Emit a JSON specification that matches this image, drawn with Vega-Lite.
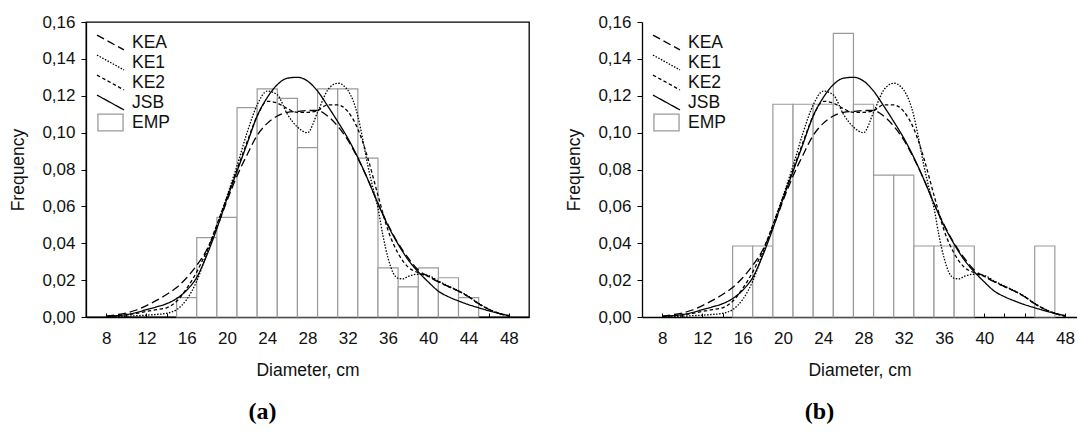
{
  "$schema": "https://vega.github.io/schema/vega-lite/v6.json",
  "padding": {"left": 9, "top": 12, "right": 0, "bottom": 0},
  "background": "white",
  "bounds": "flush",
  "spacing": 113,
  "config": {
    "font": "Liberation Sans",
    "view": {"stroke": "black", "strokeWidth": 1.3},
    "axis": {
      "labelFont": "Liberation Sans", "labelFontSize": 17, "labelColor": "#111",
      "titleFont": "Liberation Sans", "titleFontSize": 17.5, "titleFontWeight": "normal", "titleColor": "#111",
      "domainColor": "black", "domainWidth": 1.3, "tickColor": "black", "tickWidth": 1, "grid": false
    },
    "legend": {
      "orient": "none", "legendX": 10, "legendY": 10.5, "title": null, "padding": 0,
      "rowPadding": 0, "clipHeight": 20, "symbolSize": 729, "labelOffset": 7,
      "labelFont": "Liberation Sans", "labelFontSize": 17.5, "labelColor": "#111",
      "symbolStrokeWidth": 1.3, "symbolStrokeColor": "black", "symbolFillColor": "transparent",
      "symbolType": "M-1,-0.55L1,0.55"
    }
  },
  "datasets": {
    "bars_a": [
      {"x": 15, "x2": 17, "f": 0.0105},
      {"x": 17, "x2": 19, "f": 0.0430},
      {"x": 19, "x2": 21, "f": 0.0540},
      {"x": 21, "x2": 23, "f": 0.1136},
      {"x": 23, "x2": 25, "f": 0.1237},
      {"x": 25, "x2": 27, "f": 0.1186},
      {"x": 27, "x2": 29, "f": 0.0919},
      {"x": 29, "x2": 31, "f": 0.1237},
      {"x": 31, "x2": 33, "f": 0.1237},
      {"x": 33, "x2": 35, "f": 0.0862},
      {"x": 35, "x2": 37, "f": 0.0266},
      {"x": 37, "x2": 39, "f": 0.0163},
      {"x": 39, "x2": 41, "f": 0.0266},
      {"x": 41, "x2": 43, "f": 0.0213},
      {"x": 43, "x2": 45, "f": 0.0105}
    ],
    "bars_b": [
      {"x": 15, "x2": 17, "f": 0.0385},
      {"x": 17, "x2": 19, "f": 0.0385},
      {"x": 19, "x2": 21, "f": 0.1154},
      {"x": 21, "x2": 23, "f": 0.1154},
      {"x": 23, "x2": 25, "f": 0.1154},
      {"x": 25, "x2": 27, "f": 0.1538},
      {"x": 27, "x2": 29, "f": 0.1154},
      {"x": 29, "x2": 31, "f": 0.0769},
      {"x": 31, "x2": 33, "f": 0.0769},
      {"x": 33, "x2": 35, "f": 0.0385},
      {"x": 35, "x2": 37, "f": 0.0385},
      {"x": 37, "x2": 39, "f": 0.0385},
      {"x": 45, "x2": 47, "f": 0.0385}
    ],
    "curves": [
      {"x": 8, "m": "KEA", "f": 0.0005}, {"x": 8, "m": "KE1", "f": 0.0000}, {"x": 8, "m": "KE2", "f": 0.0003}, {"x": 8, "m": "JSB", "f": 0.0003},
      {"x": 9, "m": "KEA", "f": 0.0012}, {"x": 9, "m": "KE1", "f": 0.0002}, {"x": 9, "m": "KE2", "f": 0.0006}, {"x": 9, "m": "JSB", "f": 0.0007},
      {"x": 10, "m": "KEA", "f": 0.0022}, {"x": 10, "m": "KE1", "f": 0.0004}, {"x": 10, "m": "KE2", "f": 0.0012}, {"x": 10, "m": "JSB", "f": 0.0013},
      {"x": 11, "m": "KEA", "f": 0.0038}, {"x": 11, "m": "KE1", "f": 0.0007}, {"x": 11, "m": "KE2", "f": 0.0020}, {"x": 11, "m": "JSB", "f": 0.0024},
      {"x": 12, "m": "KEA", "f": 0.0062}, {"x": 12, "m": "KE1", "f": 0.0010}, {"x": 12, "m": "KE2", "f": 0.0030}, {"x": 12, "m": "JSB", "f": 0.0040},
      {"x": 13, "m": "KEA", "f": 0.0090}, {"x": 13, "m": "KE1", "f": 0.0014}, {"x": 13, "m": "KE2", "f": 0.0040}, {"x": 13, "m": "JSB", "f": 0.0055},
      {"x": 14, "m": "KEA", "f": 0.0122}, {"x": 14, "m": "KE1", "f": 0.0020}, {"x": 14, "m": "KE2", "f": 0.0050}, {"x": 14, "m": "JSB", "f": 0.0072},
      {"x": 15, "m": "KEA", "f": 0.0160}, {"x": 15, "m": "KE1", "f": 0.0040}, {"x": 15, "m": "KE2", "f": 0.0085}, {"x": 15, "m": "JSB", "f": 0.0100},
      {"x": 16, "m": "KEA", "f": 0.0213}, {"x": 16, "m": "KE1", "f": 0.0095}, {"x": 16, "m": "KE2", "f": 0.0155}, {"x": 16, "m": "JSB", "f": 0.0145},
      {"x": 17, "m": "KEA", "f": 0.0280}, {"x": 17, "m": "KE1", "f": 0.0195}, {"x": 17, "m": "KE2", "f": 0.0245}, {"x": 17, "m": "JSB", "f": 0.0215},
      {"x": 18, "m": "KEA", "f": 0.0365}, {"x": 18, "m": "KE1", "f": 0.0345}, {"x": 18, "m": "KE2", "f": 0.0360}, {"x": 18, "m": "JSB", "f": 0.0335},
      {"x": 19, "m": "KEA", "f": 0.0485}, {"x": 19, "m": "KE1", "f": 0.0500}, {"x": 19, "m": "KE2", "f": 0.0500}, {"x": 19, "m": "JSB", "f": 0.0480},
      {"x": 20, "m": "KEA", "f": 0.0630}, {"x": 20, "m": "KE1", "f": 0.0655}, {"x": 20, "m": "KE2", "f": 0.0650}, {"x": 20, "m": "JSB", "f": 0.0640},
      {"x": 21, "m": "KEA", "f": 0.0765}, {"x": 21, "m": "KE1", "f": 0.0820}, {"x": 21, "m": "KE2", "f": 0.0800}, {"x": 21, "m": "JSB", "f": 0.0790},
      {"x": 22, "m": "KEA", "f": 0.0880}, {"x": 22, "m": "KE1", "f": 0.1000}, {"x": 22, "m": "KE2", "f": 0.0950}, {"x": 22, "m": "JSB", "f": 0.0940},
      {"x": 23, "m": "KEA", "f": 0.0985}, {"x": 23, "m": "KE1", "f": 0.1150}, {"x": 23, "m": "KE2", "f": 0.1090}, {"x": 23, "m": "JSB", "f": 0.1090},
      {"x": 24, "m": "KEA", "f": 0.1050}, {"x": 24, "m": "KE1", "f": 0.1225}, {"x": 24, "m": "KE2", "f": 0.1170}, {"x": 24, "m": "JSB", "f": 0.1190},
      {"x": 25, "m": "KEA", "f": 0.1090}, {"x": 25, "m": "KE1", "f": 0.1205}, {"x": 25, "m": "KE2", "f": 0.1160}, {"x": 25, "m": "JSB", "f": 0.1260},
      {"x": 26, "m": "KEA", "f": 0.1110}, {"x": 26, "m": "KE1", "f": 0.1100}, {"x": 26, "m": "KE2", "f": 0.1130}, {"x": 26, "m": "JSB", "f": 0.1295},
      {"x": 27, "m": "KEA", "f": 0.1115}, {"x": 27, "m": "KE1", "f": 0.1030}, {"x": 27, "m": "KE2", "f": 0.1110}, {"x": 27, "m": "JSB", "f": 0.1300},
      {"x": 28, "m": "KEA", "f": 0.1120}, {"x": 28, "m": "KE1", "f": 0.1000}, {"x": 28, "m": "KE2", "f": 0.1110}, {"x": 28, "m": "JSB", "f": 0.1280},
      {"x": 29, "m": "KEA", "f": 0.1120}, {"x": 29, "m": "KE1", "f": 0.1110}, {"x": 29, "m": "KE2", "f": 0.1120}, {"x": 29, "m": "JSB", "f": 0.1225},
      {"x": 30, "m": "KEA", "f": 0.1090}, {"x": 30, "m": "KE1", "f": 0.1230}, {"x": 30, "m": "KE2", "f": 0.1150}, {"x": 30, "m": "JSB", "f": 0.1145},
      {"x": 31, "m": "KEA", "f": 0.1035}, {"x": 31, "m": "KE1", "f": 0.1268}, {"x": 31, "m": "KE2", "f": 0.1150}, {"x": 31, "m": "JSB", "f": 0.1060},
      {"x": 32, "m": "KEA", "f": 0.0960}, {"x": 32, "m": "KE1", "f": 0.1230}, {"x": 32, "m": "KE2", "f": 0.1115}, {"x": 32, "m": "JSB", "f": 0.0970},
      {"x": 33, "m": "KEA", "f": 0.0860}, {"x": 33, "m": "KE1", "f": 0.1090}, {"x": 33, "m": "KE2", "f": 0.1020}, {"x": 33, "m": "JSB", "f": 0.0865},
      {"x": 33.5, "m": "KE1", "f": 0.0960},
      {"x": 34, "m": "KEA", "f": 0.0745}, {"x": 34, "m": "KE1", "f": 0.0820}, {"x": 34, "m": "KE2", "f": 0.0860}, {"x": 34, "m": "JSB", "f": 0.0745},
      {"x": 34.5, "m": "KE1", "f": 0.0700},
      {"x": 35, "m": "KEA", "f": 0.0615}, {"x": 35, "m": "KE1", "f": 0.0590}, {"x": 35, "m": "KE2", "f": 0.0660}, {"x": 35, "m": "JSB", "f": 0.0615},
      {"x": 35.5, "m": "KE1", "f": 0.0440},
      {"x": 36, "m": "KEA", "f": 0.0500}, {"x": 36, "m": "KE1", "f": 0.0320}, {"x": 36, "m": "KE2", "f": 0.0470}, {"x": 36, "m": "JSB", "f": 0.0495},
      {"x": 36.5, "m": "KE1", "f": 0.0240},
      {"x": 37, "m": "KEA", "f": 0.0400}, {"x": 37, "m": "KE1", "f": 0.0210}, {"x": 37, "m": "KE2", "f": 0.0345}, {"x": 37, "m": "JSB", "f": 0.0395},
      {"x": 37.5, "m": "KE1", "f": 0.0207},
      {"x": 38, "m": "KEA", "f": 0.0320}, {"x": 38, "m": "KE1", "f": 0.0220}, {"x": 38, "m": "KE2", "f": 0.0270}, {"x": 38, "m": "JSB", "f": 0.0310},
      {"x": 39, "m": "KEA", "f": 0.0255}, {"x": 39, "m": "KE1", "f": 0.0232}, {"x": 39, "m": "KE2", "f": 0.0240}, {"x": 39, "m": "JSB", "f": 0.0245},
      {"x": 40, "m": "KEA", "f": 0.0220}, {"x": 40, "m": "KE1", "f": 0.0225}, {"x": 40, "m": "KE2", "f": 0.0220}, {"x": 40, "m": "JSB", "f": 0.0190},
      {"x": 41, "m": "KEA", "f": 0.0190}, {"x": 41, "m": "KE1", "f": 0.0195}, {"x": 41, "m": "KE2", "f": 0.0192}, {"x": 41, "m": "JSB", "f": 0.0140},
      {"x": 42, "m": "KEA", "f": 0.0165}, {"x": 42, "m": "KE1", "f": 0.0168}, {"x": 42, "m": "KE2", "f": 0.0165}, {"x": 42, "m": "JSB", "f": 0.0110},
      {"x": 43, "m": "KEA", "f": 0.0140}, {"x": 43, "m": "KE1", "f": 0.0142}, {"x": 43, "m": "KE2", "f": 0.0140}, {"x": 43, "m": "JSB", "f": 0.0087},
      {"x": 44, "m": "KEA", "f": 0.0110}, {"x": 44, "m": "KE1", "f": 0.0112}, {"x": 44, "m": "KE2", "f": 0.0110}, {"x": 44, "m": "JSB", "f": 0.0067},
      {"x": 45, "m": "KEA", "f": 0.0072}, {"x": 45, "m": "KE1", "f": 0.0074}, {"x": 45, "m": "KE2", "f": 0.0072}, {"x": 45, "m": "JSB", "f": 0.0050},
      {"x": 46, "m": "KEA", "f": 0.0042}, {"x": 46, "m": "KE1", "f": 0.0042}, {"x": 46, "m": "KE2", "f": 0.0042}, {"x": 46, "m": "JSB", "f": 0.0034},
      {"x": 47, "m": "KEA", "f": 0.0020}, {"x": 47, "m": "KE1", "f": 0.0020}, {"x": 47, "m": "KE2", "f": 0.0020}, {"x": 47, "m": "JSB", "f": 0.0020},
      {"x": 48, "m": "KEA", "f": 0.0005}, {"x": 48, "m": "KE1", "f": 0.0005}, {"x": 48, "m": "KE2", "f": 0.0005}, {"x": 48, "m": "JSB", "f": 0.0008}
    ]
  },
  "hconcat": [
    {
      "width": 443,
      "height": 295,
      "title": {"text": "(a)", "orient": "bottom", "frame": "group", "anchor": "middle", "dx": -45, "offset": 21, "font": "Liberation Serif", "fontSize": 24, "fontWeight": "bold", "color": "black"},
      "encoding": {
        "x": {"field": "x", "type": "quantitative", "scale": {"domain": [6, 50], "nice": false, "zero": false},
          "axis": {"title": "Diameter, cm", "values": [8,10,12,14,16,18,20,22,24,26,28,30,32,34,36,38,40,42,44,46,48], "labelExpr": "datum.value % 4 === 0 ? datum.value : ''", "tickSize": -4, "labelPadding": 17, "labelFlush": false, "labelOverlap": false, "titlePadding": 15}},
        "y": {"field": "f", "type": "quantitative", "scale": {"domain": [0, 0.16], "nice": false},
          "axis": {"title": "Frequency", "values": [0,0.02,0.04,0.06,0.08,0.1,0.12,0.14,0.16], "labelExpr": "replace(format(datum.value, '.2f'), '.', ',')", "tickSize": 5, "labelPadding": 6, "titlePadding": 14}}
      },
      "layer": [
        {
          "data": {"name": "bars_a"},
          "mark": {"type": "rect", "fill": "white", "stroke": "#9a9a9a", "strokeWidth": 1.2},
          "encoding": {"x2": {"field": "x2"}}
        },
        {
          "data": {"name": "curves"},
          "mark": {"type": "line", "interpolate": "monotone", "stroke": "black", "strokeWidth": 1.3},
          "encoding": {
            "strokeDash": {"field": "m", "type": "nominal",
              "scale": {"domain": ["KEA", "KE1", "KE2", "JSB", "EMP"], "range": [[8,4],[1.5,1.5],[3.5,2.5],[1,0],[1,0]]},
              "legend": {"encode": {"symbols": {"update": {
                "shape": {"signal": "datum.value === 'EMP' ? 'M-0.93,-0.62H0.93V0.62H-0.93Z' : 'M-1,-0.55L1,0.55'"},
                "stroke": {"signal": "datum.value === 'EMP' ? '#9a9a9a' : '#000'"},
                "fill": {"value": "transparent"},
                "strokeWidth": {"value": 1.3}}}}}}
          }
        }
      ]
    },
    {
      "width": 435,
      "height": 295,
      "view": {"stroke": null},
      "title": {"text": "(b)", "orient": "bottom", "frame": "group", "anchor": "middle", "dx": -40, "offset": 21, "font": "Liberation Serif", "fontSize": 24, "fontWeight": "bold", "color": "black"},
      "layer": [
        {
          "data": {"name": "bars_b"},
          "mark": {"type": "rect", "fill": "white", "stroke": "#9a9a9a", "strokeWidth": 1.2},
          "encoding": {
            "x": {"field": "x", "type": "quantitative", "scale": {"domain": [6, 49.2], "nice": false, "zero": false},
              "axis": {"title": "Diameter, cm", "values": [8,10,12,14,16,18,20,22,24,26,28,30,32,34,36,38,40,42,44,46,48], "labelExpr": "datum.value % 4 === 0 ? datum.value : ''", "tickSize": -4, "labelPadding": 17, "labelFlush": false, "labelOverlap": false, "titlePadding": 15}},
            "x2": {"field": "x2"},
            "y": {"field": "f", "type": "quantitative", "scale": {"domain": [0, 0.16], "nice": false},
              "axis": {"title": "Frequency", "values": [0,0.02,0.04,0.06,0.08,0.1,0.12,0.14,0.16], "labelExpr": "replace(format(datum.value, '.2f'), '.', ',')", "tickSize": 5, "labelPadding": 6, "titlePadding": 14}}
          }
        },
        {
          "data": {"name": "curves"},
          "mark": {"type": "line", "interpolate": "monotone", "stroke": "black", "strokeWidth": 1.3},
          "encoding": {
            "x": {"field": "x", "type": "quantitative", "scale": {"domain": [6, 49.2], "nice": false, "zero": false},
              "axis": {"title": "Diameter, cm", "values": [8,10,12,14,16,18,20,22,24,26,28,30,32,34,36,38,40,42,44,46,48], "labelExpr": "datum.value % 4 === 0 ? datum.value : ''", "tickSize": -4, "labelPadding": 17, "labelFlush": false, "labelOverlap": false, "titlePadding": 15}},
            "y": {"field": "f", "type": "quantitative", "scale": {"domain": [0, 0.16], "nice": false},
              "axis": {"title": "Frequency", "values": [0,0.02,0.04,0.06,0.08,0.1,0.12,0.14,0.16], "labelExpr": "replace(format(datum.value, '.2f'), '.', ',')", "tickSize": 5, "labelPadding": 6, "titlePadding": 14}},
            "strokeDash": {"field": "m", "type": "nominal",
              "scale": {"domain": ["KEA", "KE1", "KE2", "JSB", "EMP"], "range": [[8,4],[1.5,1.5],[3.5,2.5],[1,0],[1,0]]},
              "legend": {"encode": {"symbols": {"update": {
                "shape": {"signal": "datum.value === 'EMP' ? 'M-0.93,-0.62H0.93V0.62H-0.93Z' : 'M-1,-0.55L1,0.55'"},
                "stroke": {"signal": "datum.value === 'EMP' ? '#9a9a9a' : '#000'"},
                "fill": {"value": "transparent"},
                "strokeWidth": {"value": 1.3}}}}}}
          }
        },
        {
          "mark": {"type": "rule", "color": "black", "strokeWidth": 1.3},
          "encoding": {
            "y": {"datum": 0.16, "type": "quantitative", "scale": {"domain": [0, 0.16], "nice": false},
              "axis": {"title": "Frequency", "values": [0,0.02,0.04,0.06,0.08,0.1,0.12,0.14,0.16], "labelExpr": "replace(format(datum.value, '.2f'), '.', ',')", "tickSize": 5, "labelPadding": 6, "titlePadding": 14}}
          }
        }
      ]
    }
  ],
  "resolve": {"scale": {"strokeDash": "independent"}, "legend": {"strokeDash": "independent"}}
}
